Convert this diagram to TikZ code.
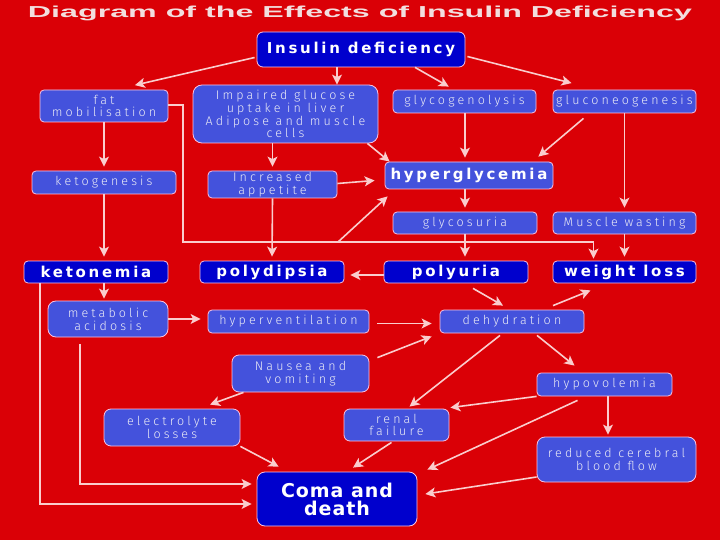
\documentclass[tikz,border=0pt]{standalone}
\usepackage{fontspec}
\usepackage{graphicx}
\usetikzlibrary{arrows.meta,calc}
\newfontfamily\titlef{Liberation Sans Bold}
\newfontfamily\thinf[LetterSpace=25]{Fira Sans Light}
\newfontfamily\boldf[LetterSpace=18]{DejaVu Sans Bold}
\newfontfamily\comaf[LetterSpace=5]{DejaVu Sans Bold}
\definecolor{bg}{RGB}{218,0,6}
\definecolor{midb}{RGB}{68,82,220}
\definecolor{darkb}{RGB}{0,0,205}
\definecolor{bdr}{RGB}{250,195,225}
\definecolor{arc}{RGB}{250,205,205}
\definecolor{txt}{RGB}{236,236,246}
\definecolor{ttl}{RGB}{242,222,222}
\tikzset{
  box/.style={draw=bdr, line width=0.8pt, rounded corners=4pt, inner sep=0pt, align=center, text=txt},
  mid/.style={box, fill=midb, font=\thinf\fontsize{12.5}{12.8}\selectfont},
  dark/.style={box, fill=darkb, text=white, font=\boldf\fontsize{15}{18}\selectfont},
  arr/.style={draw=arc, line width=1.6pt, -{Stealth[length=10pt,width=10pt,inset=2.5pt]}, shorten >=2pt},
  ln/.style={draw=arc, line width=1.6pt}
}
\begin{document}
\begin{tikzpicture}[x=1pt,y=-1pt]
\useasboundingbox (0,0) rectangle (720,540);
\fill[bg] (0,0) rectangle (720,540);
\node[anchor=base, text=ttl, inner sep=0] (title) at (360,17.5) {\resizebox{664pt}{11.5pt}{\titlef Diagram of the Effects of Insulin Deficiency}};

% nodes
\node[dark, minimum width=208pt, minimum height=35pt, rounded corners=6pt] (ins) at (361,49.5) {Insulin deficiency};
\node[mid, minimum width=128pt, minimum height=32pt] (fat) at (104,106) {fat\\mobilisation};
\node[mid, minimum width=185pt, minimum height=58pt, rounded corners=9pt] (imp) at (285.5,114) {Impaired glucose\\uptake in liver\\Adipose and muscle\\cells};
\node[mid, minimum width=143pt, minimum height=23pt] (glyco) at (464.5,101.5) {glycogenolysis};
\node[mid, minimum width=143pt, minimum height=23pt] (gluco) at (624.5,101.5) {gluconeogenesis};
\node[mid, minimum width=144pt, minimum height=23pt] (keto) at (104,182.5) {ketogenesis};
\node[mid, minimum width=129pt, minimum height=27pt] (app) at (272.5,184.5) {Increased\\appetite};
\node[mid, minimum width=168pt, minimum height=27pt, text=white, font=\boldf\fontsize{15}{18}\selectfont] (hyper) at (469,175.5) {hyperglycemia};
\node[mid, minimum width=144pt, minimum height=22pt] (glycos) at (465,223) {glycosuria};
\node[mid, minimum width=143pt, minimum height=22pt] (musc) at (624.5,223) {Muscle wasting};
\node[dark, minimum width=144pt, minimum height=22pt] (ketonemia) at (96,272) {ketonemia};
\node[dark, minimum width=144pt, minimum height=22pt] (polyd) at (272,272) {polydipsia};
\node[dark, minimum width=144pt, minimum height=22pt] (polyu) at (456,272) {polyuria};
\node[dark, minimum width=143pt, minimum height=22pt] (wl) at (624.5,272) {weight loss};
\node[mid, minimum width=120pt, minimum height=36pt, rounded corners=8pt] (meta) at (108,319) {metabolic\\acidosis};
\node[mid, minimum width=161pt, minimum height=23pt] (hvent) at (288.5,321.5) {hyperventilation};
\node[mid, minimum width=144pt, minimum height=23pt] (dehyd) at (512,321.5) {dehydration};
\node[mid, minimum width=137pt, minimum height=37pt, rounded corners=7pt] (naus) at (300.5,373.5) {Nausea and\\vomiting};
\node[mid, minimum width=135pt, minimum height=23pt] (hypov) at (604.5,384.5) {hypovolemia};
\node[mid, minimum width=136pt, minimum height=37pt, rounded corners=7pt] (elec) at (172,427.5) {electrolyte\\losses};
\node[mid, minimum width=105pt, minimum height=32pt, rounded corners=6pt] (renal) at (396.5,425) {renal\\failure};
\node[mid, minimum width=159pt, minimum height=45pt, rounded corners=8pt] (rcbf) at (616.5,459.5) {reduced cerebral\\blood flow};
\node[dark, minimum width=160pt, minimum height=54pt, rounded corners=8pt, font=\comaf\fontsize{19}{18}\selectfont] (coma) at (337,499) {Coma and\\death};

% helper corners
\coordinate (c1) at (183,242);
\coordinate (c2) at (338,242);

% connectors
\draw[arr] ([shift={(-2,8)}]ins.west) -- ([shift={(29,-4)}]fat.north);
\draw[arr, shorten >=0pt] ([shift={(-24,0)}]ins.south) -- ([shift={(-24,0)}]ins.south |- imp.north);
\draw[arr] ([shift={(54,0)}]ins.south) -- ([shift={(-14,-2)}]glyco.north);
\draw[arr] ([shift={(2,7)}]ins.east) -- ([shift={(-51,-6)}]gluco.north);
\draw[arr, shorten >=4pt] (fat.south) -- (keto.north);
\draw[arr] ([shift={(0,-1)}]fat.east) -| (c1) -| ([shift={(-31,0)}]wl.north);
\draw[arr, shorten >=0pt] (c2) -- ([shift={(3,7)}]hyper.south west);
\draw[arr, shorten >=4pt] (app.north |- imp.south) -- (app.north);
\draw[arr, shorten >=0pt] ([shift={(-11,0)}]imp.south east) -- ([shift={(5,0)}]hyper.north west);
\draw[arr, shorten >=0pt] ([shift={(0,-1)}]app.east) -- ([shift={(-10,5)}]hyper.west);
\draw[arr, shorten >=4pt] (glyco.south -| glycos.north) -- (glycos.north |- hyper.north);
\draw[arr, shorten >=0pt] ([shift={(-41,5)}]gluco.south) -- ([shift={(-15,-5)}]hyper.north east);
\draw[arr, shorten >=4pt] (gluco.south) -- (musc.north);
\draw[arr, shorten >=4pt] (glycos.north |- hyper.south) -- (glycos.north);
\draw[arr, shorten >=4pt] (glycos.south) -- (glycos.south |- polyu.north);
\draw[arr, shorten >=4pt] (musc.south) -- (wl.north);
\draw[arr, shorten >=4pt] (keto.south) -- (keto.south |- ketonemia.north);
\draw[arr, shorten >=4pt] (app.south) -- (polyd.north);
\draw[arr, shorten >=6pt] ([shift={(0,3)}]polyu.west) -- ([shift={(0,3)}]polyd.east);
\draw[arr, shorten >=2pt] ([shift={(8,0)}]ketonemia.south) -- ([shift={(8,0)}]ketonemia.south |- meta.north);
\draw[arr, shorten >=5pt] ([shift={(-56,0)}]ketonemia.south) |- ([shift={(0,5)}]coma.west);
\draw[arr, shorten >=5pt] ([shift={(-28,7)}]meta.south) |- ([shift={(0,-15)}]coma.west);
\draw[arr, shorten >=7pt] (meta.east) -- (meta.east -| hvent.west);
\draw[arr, shorten >=0pt] ([shift={(8,2)}]hvent.east) -- ([shift={(-8,2)}]dehyd.west);
\draw[arr, shorten >=0pt] ([shift={(17,5)}]polyu.south) -- ([shift={(-9,-4)}]dehyd.north);
\draw[arr, shorten >=0pt] ([shift={(41,-4)}]dehyd.north) -- ([shift={(-34,7)}]wl.south);
\draw[arr, shorten >=0pt] ([shift={(8,3)}]naus.north east) -- ([shift={(-8,3)}]dehyd.south west);
\draw[arr, shorten >=0pt] ([shift={(-12,2)}]dehyd.south) -- ([shift={(13,-2)}]renal.north);
\draw[arr, shorten >=0pt] ([shift={(25,2)}]dehyd.south) -- ([shift={(-30,-7)}]hypov.north);
\draw[arr, shorten >=0pt] ([shift={(-57,0)}]naus.south) -- ([shift={(38,-4)}]elec.north);
\draw[arr, shorten >=0pt] (elec.south east) -- ([shift={(22,-5)}]coma.north west);
\draw[arr, shorten >=0pt] ([shift={(-5,1)}]renal.south) -- ([shift={(16,-4)}]coma.north);
\draw[arr, shorten >=0pt] (hypov.south west) -- ([shift={(1,-1)}]renal.north east);
\draw[arr, shorten >=0pt] ([shift={(-27,4)}]hypov.south) -- ([shift={(10,-2)}]coma.north east);
\draw[arr, shorten >=2pt] ([shift={(3.5,0)}]hypov.south) -- ([shift={(3.5,0)}]hypov.south |- rcbf.north);
\draw[arr, shorten >=0pt] ([shift={(0,17.5)}]rcbf.west) -- ([shift={(8,-5)}]coma.east);
\end{tikzpicture}
\end{document}
